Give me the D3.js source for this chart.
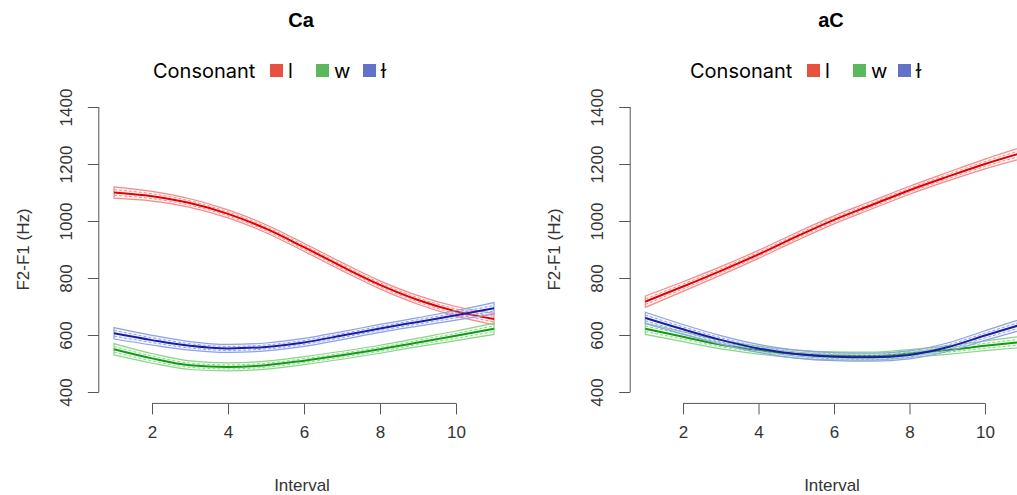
<!DOCTYPE html>
<html>
<head>
<meta charset="utf-8">
<script src="https://cdn.jsdelivr.net/npm/d3@7"></script>
<style>
  body { margin: 0; background: #fff; }
  text { font-family: "Liberation Sans", Arial, sans-serif; }
</style>
</head>
<body>
<script>
const w = 1017,
  h = 495;

// data
const interval = [1, 2, 3, 4, 5, 6, 7, 8, 9, 10, 11];
const ci = [20, 17, 15, 14, 14, 14, 14, 14, 15, 17, 20];

const caL = [1100, 1087, 1063, 1025, 973, 908, 840, 776, 723, 683, 656];
const caW = [550, 518, 494, 488, 494, 510, 529, 550, 574, 597, 622];
const caDark = [606, 582, 562, 553, 558, 574, 598, 623, 646, 669, 694];

const acL = [717, 770, 825, 883, 945, 1004, 1056, 1108, 1155, 1200, 1240];
const acW = [622, 594, 566, 547, 533, 527, 526, 535, 547, 562, 576];
const acDark = [660, 620, 583, 553, 533, 524, 522, 530, 557, 598, 638];

const consonants = ['l', 'w', 'ɫ'];
const yTicks = [400, 600, 800, 1000, 1200, 1400];
const xTicks = [2, 4, 6, 8, 10];

const dark = ['#e00000', '#129a12', '#1c1ca8'];
const light = ['#f48a8a', '#8ad68a', '#8ea2e6'];
const key = ['#e8513f', '#5cb85c', '#6272c9'];

const panels = [
  { title: 'Ca', series: [caL, caW, caDark], x0: 98.8, x1: 509.2, leg: [153, 270, 316, 363] },
  { title: 'aC', series: [acL, acW, acDark], x0: 630.2, x1: 1037.8, leg: [690, 807, 853, 898] }
];

const svg = d3.select('body')
  .append('svg')
  .attr('width', w)
  .attr('height', h);

const yScale = d3.scaleLinear()
  .domain([360, 1440])
  .range([403.4, 95.6]);

panels.forEach((p, pi) => {
  const xScale = d3.scaleLinear()
    .domain([0.6, 11.4])
    .range([p.x0, p.x1]);

  const g = svg.append('g');
  const cx = (p.x0 + p.x1) / 2;

  g.append('clipPath')
    .attr('id', 'clip' + pi)
    .append('rect')
    .attr('x', p.x0)
    .attr('y', yScale(1440))
    .attr('width', p.x1 - p.x0)
    .attr('height', yScale(360) - yScale(1440));

  const plot = g.append('g').attr('clip-path', `url(#clip${pi})`);

  p.series.forEach((vals, si) => {
    const pts = interval.map((x, i) => ({ x: x, v: vals[i], c: ci[i] }));
    const curve = d3.curveMonotoneX;

    const area = d3.area()
      .x(d => xScale(d.x))
      .y0(d => yScale(d.v - d.c))
      .y1(d => yScale(d.v + d.c))
      .curve(curve);

    plot.append('path')
      .datum(pts)
      .attr('d', area)
      .attr('fill', light[si])
      .attr('fill-opacity', 0.1)
      .attr('stroke', light[si])
      .attr('stroke-width', 1.2);

    [-0.5, 0.5].forEach(k => {
      plot.append('path')
        .datum(pts)
        .attr('d', d3.line().x(d => xScale(d.x)).y(d => yScale(d.v + k * d.c)).curve(curve))
        .attr('fill', 'none')
        .attr('stroke', light[si])
        .attr('stroke-width', 1)
        .attr('stroke-dasharray', '3,2');
    });

    plot.append('path')
      .datum(pts)
      .attr('d', d3.line().x(d => xScale(d.x)).y(d => yScale(d.v)).curve(curve))
      .attr('fill', 'none')
      .attr('stroke', dark[si])
      .attr('stroke-width', 2);
  });

  // R style axes: line only between first and last tick
  const yAxis = d3.axisLeft(yScale)
    .tickValues(yTicks)
    .tickFormat(d3.format('d'))
    .tickSize(11)
    .tickPadding(23);

  const ya = g.append('g')
    .attr('transform', `translate(${p.x0}, 0)`)
    .call(yAxis);
  ya.select('.domain').remove();
  ya.append('line')
    .attr('y1', yScale(400))
    .attr('y2', yScale(1400))
    .attr('stroke', '#555');
  ya.selectAll('.tick line').attr('stroke', '#555');
  ya.selectAll('.tick text')
    .attr('transform', 'rotate(-90)')
    .attr('x', 0)
    .attr('y', -33)
    .attr('dy', '0.35em')
    .attr('text-anchor', 'middle')
    .attr('fill', '#333')
    .style('font-size', '17px');

  const xAxis = d3.axisBottom(xScale)
    .tickValues(xTicks)
    .tickSize(11)
    .tickPadding(12);

  const xa = g.append('g')
    .attr('transform', `translate(0, ${yScale(360)})`)
    .call(xAxis);
  xa.select('.domain').remove();
  xa.append('line')
    .attr('x1', xScale(2))
    .attr('x2', xScale(10))
    .attr('stroke', '#555');
  xa.selectAll('.tick line').attr('stroke', '#555');
  xa.selectAll('.tick text')
    .attr('fill', '#333')
    .style('font-size', '17px');

  g.append('text')
    .attr('x', cx - 3)
    .attr('y', 27)
    .attr('text-anchor', 'middle')
    .style('font-size', '20px')
    .style('font-weight', 'bold')
    .text(p.title);

  g.append('text')
    .attr('x', cx - 2)
    .attr('y', 491)
    .attr('text-anchor', 'middle')
    .attr('fill', '#333')
    .style('font-size', '17px')
    .text('Interval');

  g.append('text')
    .attr('transform', `translate(${p.x0 - 76}, ${yScale(900)}) rotate(-90)`)
    .attr('dy', '0.35em')
    .attr('text-anchor', 'middle')
    .attr('fill', '#333')
    .style('font-size', '17px')
    .text('F2-F1 (Hz)');

  // legend
  const leg = g.append('g');
  leg.append('text')
    .attr('x', p.leg[0])
    .attr('y', 78)
    .style('font-size', '20px')
    .style('font-family', 'Inter, "Liberation Sans", sans-serif')
    .text('Consonant');
  consonants.forEach((c, i) => {
    leg.append('rect')
      .attr('x', p.leg[i + 1])
      .attr('y', 64)
      .attr('width', 13)
      .attr('height', 13)
      .attr('fill', key[i]);
    leg.append('text')
      .attr('x', p.leg[i + 1] + 18)
      .attr('y', 78)
      .style('font-size', '20px')
      .style('font-family', 'Inter, "Liberation Sans", sans-serif')
      .text(c);
  });
});
</script>
</body>
</html>
